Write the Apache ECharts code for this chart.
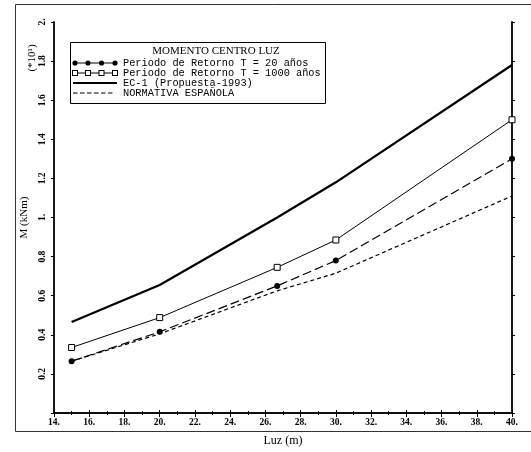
<!DOCTYPE html>
<html>
<head>
<meta charset="utf-8">
<script src="https://cdn.jsdelivr.net/npm/echarts@6/dist/echarts.min.js"></script>
<style>html,body{margin:0;padding:0;background:#fff}#c{width:531px;height:452px}</style>
</head>
<body>
<div id="c"></div>
<script>
// ---- data ----
var luz = [15, 20, 26.67, 30, 40];
var t20 = [0.265, 0.415, 0.65, 0.78, 1.30];
var t1000 = [0.335, 0.488, 0.745, 0.885, 1.50];
var ec1 = [0.465, 0.655, 1.0, 1.18, 1.78];
var normativa = [0.265, 0.405, 0.625, 0.715, 1.11];
var seriesNames = ['Periodo de Retorno T = 20 años', 'Periodo de Retorno T = 1000 años', 'EC-1 (Propuesta-1993)', 'NORMATIVA ESPAÑOLA'];
var xTickLabels = ['14.', '16.', '18.', '20.', '22.', '24.', '26.', '28.', '30.', '32.', '34.', '36.', '38.', '40.'];
var yTickLabels = ['', '0.2', '0.4', '0.6', '0.8', '1.', '1.2', '1.4', '1.6', '1.8', '2.'];
var legendTitle = 'MOMENTO CENTRO LUZ';
var xName = 'Luz (m)';
var yName = 'M (kNm)';
var yScale = '(*10\u00B9)';

function pairs(xs, ys) { return xs.map(function (x, i) { return [x, ys[i]]; }); }

// legend icon paths (46 x 6 box)
function circ(cx, cy, r) { return 'M' + (cx - r) + ' ' + cy + ' a' + r + ' ' + r + ' 0 1 1 ' + (2 * r) + ' 0 a' + r + ' ' + r + ' 0 1 1 ' + (-2 * r) + ' 0 Z '; }
function rect(x, y, w, h) { return 'M' + x + ' ' + y + ' L' + (x + w) + ' ' + y + ' L' + (x + w) + ' ' + (y + h) + ' L' + x + ' ' + (y + h) + ' Z '; }
function rectRev(x, y, w, h) { return 'M' + x + ' ' + y + ' L' + x + ' ' + (y + h) + ' L' + (x + w) + ' ' + (y + h) + ' L' + (x + w) + ' ' + y + ' Z '; }
var icon20 = 'path://M0 0 M46 6 ';
[3, 16, 29.5, 43].forEach(function (cx, i, a) {
  icon20 += circ(cx, 3, 2.6);
  if (i < a.length - 1) icon20 += rect(cx + 2.6, 2.5, a[i + 1] - cx - 5.2, 1);
});
var icon1000 = 'path://M0 0 M46 6 ';
[0, 13, 26.5, 40].forEach(function (x, i, a) {
  icon1000 += rect(x, 0, 6, 6) + rectRev(x + 1, 1, 4, 4);
  if (i < a.length - 1) icon1000 += rect(x + 6, 2.5, a[i + 1] - x - 6, 1);
});
var iconEC = 'path://M0 0 M46 6 ' + rect(1, 2, 44, 2);
var iconNorm = 'path://M0 0 M46 6 ';
[1, 8, 15, 22, 29, 36].forEach(function (x) { iconNorm += rect(x, 2.5, 4.5, 1); });

var chart = echarts.init(document.getElementById('c'), null, { renderer: 'canvas' });
var serif = 'Liberation Serif';
var axisCommon = {
  type: 'value', min: 14, max: 40, interval: 2,
  axisLine: { show: true, lineStyle: { color: '#000', width: 1.6 } },
  splitLine: { show: false }
};
chart.setOption({
  animation: false,
  backgroundColor: '#fff',
  grid: { left: 54, right: 19, top: 22, bottom: 38 },
  xAxis: [
    Object.assign({}, axisCommon, {
      position: 'bottom',
      name: xName, nameLocation: 'middle', nameGap: 22,
      nameTextStyle: { fontFamily: serif, fontSize: 12, color: '#000' },
      axisTick: { show: true, length: 4, lineStyle: { color: '#000' } },
      minorTick: { show: true, splitNumber: 2, length: 2, lineStyle: { color: '#000' } },
      axisLabel: { margin: 5, fontFamily: serif, fontSize: 9.5, fontWeight: 'bold', color: '#000',
        formatter: function (v) { return xTickLabels[Math.round((v - 14) / 2)] || ''; } }
    }),
    Object.assign({}, axisCommon, {
      position: 'top',
      axisTick: { show: true, length: 3, lineStyle: { color: '#000' } },
      minorTick: { show: true, splitNumber: 2, length: 2, lineStyle: { color: '#000' } },
      axisLabel: { show: false }
    })
  ],
  yAxis: [
    {
      type: 'value', min: 0, max: 2, interval: 0.2, position: 'left',
      name: yName, nameLocation: 'middle', nameGap: 22, nameRotate: 90,
      nameTextStyle: { fontFamily: serif, fontSize: 11, color: '#000' },
      axisLine: { show: true, lineStyle: { color: '#000', width: 1.8 } },
      axisTick: { show: true, length: 3, lineStyle: { color: '#000' } },
      splitLine: { show: false },
      axisLabel: { rotate: 90, margin: 6, fontFamily: serif, fontSize: 9.5, fontWeight: 'bold', color: '#000',
        formatter: function (v) { return yTickLabels[Math.round(v / 0.2)] || ''; } }
    },
    {
      type: 'value', min: 0, max: 2, interval: 0.2, position: 'right',
      axisLine: { show: true, lineStyle: { color: '#000', width: 1.8 } },
      axisTick: { show: true, length: 3, lineStyle: { color: '#000' } },
      splitLine: { show: false },
      axisLabel: { show: false }
    }
  ],
  legend: {
    orient: 'vertical', left: 72, top: 58, itemWidth: 46, itemHeight: 6, itemGap: 0,
    align: 'left', padding: 0,
    itemStyle: { color: '#000', borderWidth: 0 },
    textStyle: { fontFamily: 'Liberation Mono', fontSize: 10.3, color: '#000', lineHeight: 10, padding: 0 },
    data: [
      { name: seriesNames[0], icon: icon20 },
      { name: seriesNames[1], icon: icon1000 },
      { name: seriesNames[2], icon: iconEC },
      { name: seriesNames[3], icon: iconNorm }
    ]
  },
  graphic: [
    { type: 'rect', shape: { x: 15.5, y: 4.5, width: 560, height: 427 }, style: { fill: 'none', stroke: '#333', lineWidth: 1 }, silent: true },
    { type: 'rect', shape: { x: 70.5, y: 42.5, width: 255, height: 61 }, style: { fill: '#fff', stroke: '#000', lineWidth: 1 }, z: -1, silent: true },
    { type: 'text', x: 216, y: 51, style: { text: legendTitle, font: '11px "Liberation Serif"', fill: '#000', textAlign: 'center', textVerticalAlign: 'middle' }, silent: true },
    { type: 'text', x: 32, y: 58, rotation: Math.PI / 2, style: { text: yScale, font: '11px "Liberation Serif"', fill: '#000', textAlign: 'center', textVerticalAlign: 'middle' }, silent: true }
  ],
  series: [
    { name: seriesNames[0], type: 'line', data: pairs(luz, t20), symbol: 'circle', symbolSize: 6,
      itemStyle: { color: '#000' }, lineStyle: { color: '#000', width: 1.2, type: [9, 4] }, z: 4 },
    { name: seriesNames[1], type: 'line', data: pairs(luz, t1000), symbol: 'rect', symbolSize: 6,
      itemStyle: { color: '#fff', borderColor: '#000', borderWidth: 1 }, lineStyle: { color: '#000', width: 1 }, z: 4 },
    { name: seriesNames[2], type: 'line', data: pairs(luz, ec1), symbol: 'none',
      itemStyle: { color: '#000' }, lineStyle: { color: '#000', width: 2.2 }, z: 3 },
    { name: seriesNames[3], type: 'line', data: pairs(luz, normativa), symbol: 'none',
      itemStyle: { color: '#000' }, lineStyle: { color: '#000', width: 1.2, type: [4, 3] }, z: 3 }
  ]
});
</script>
</body>
</html>
